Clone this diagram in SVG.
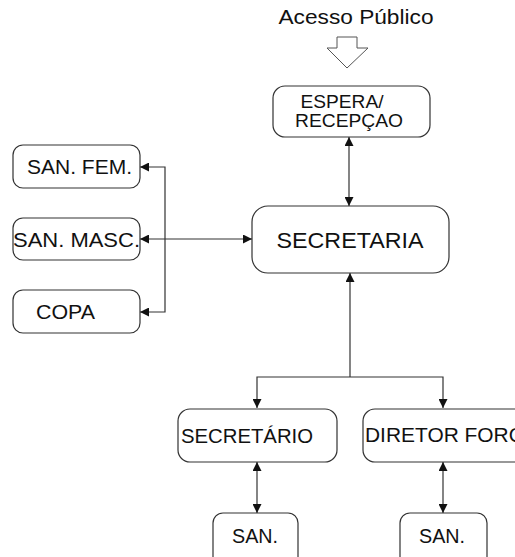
<svg xmlns="http://www.w3.org/2000/svg" width="515" height="557" viewBox="0 0 515 557">
<style>
.box{fill:#fff;stroke:#333;stroke-width:1.2}
.t{font-family:"Liberation Sans",Arial,sans-serif;fill:#111}
.c{fill:none;stroke:#333;stroke-width:1.2}
</style>
<defs>
<marker id="ah" viewBox="0 0 10 10" refX="10" refY="5" markerWidth="9" markerHeight="9" markerUnits="userSpaceOnUse" orient="auto-start-reverse">
<path d="M0,0 L10,5 L0,10 Z" fill="#111"/>
</marker>
</defs>
<rect width="515" height="557" fill="#fff"/>
<g id="acesso">
<text class="t" x="356" y="24" font-size="20" text-anchor="middle" textLength="155" lengthAdjust="spacingAndGlyphs">Acesso Público</text>
<path d="M337,37 H357 V48 H368 L347,68 L327,48 H337 Z" fill="#fff" stroke="#555" stroke-width="1"/>
</g>
<g id="connectors">
<line class="c" x1="349" y1="137" x2="349" y2="206" marker-start="url(#ah)" marker-end="url(#ah)"/>
<line class="c" x1="140" y1="239" x2="252" y2="239" marker-start="url(#ah)" marker-end="url(#ah)"/>
<polyline class="c" points="140,167 165,167 165,312 140,312" marker-start="url(#ah)" marker-end="url(#ah)"/>
<line class="c" x1="350" y1="377" x2="350" y2="273" marker-end="url(#ah)"/>
<polyline class="c" points="257,408 257,377 443,377 443,408" marker-start="url(#ah)" marker-end="url(#ah)"/>
<line class="c" x1="257" y1="462" x2="257" y2="513" marker-start="url(#ah)" marker-end="url(#ah)"/>
<line class="c" x1="443" y1="462" x2="443" y2="513" marker-start="url(#ah)" marker-end="url(#ah)"/>
</g>
<g id="espera">
<rect class="box" x="273" y="86" width="157" height="51" rx="12"/>
<text class="t" x="342" y="108" font-size="19" text-anchor="middle" textLength="83" lengthAdjust="spacingAndGlyphs">ESPERA/</text>
<text class="t" x="349" y="127" font-size="19" text-anchor="middle" textLength="108" lengthAdjust="spacingAndGlyphs">RECEPÇAO</text>
</g>
<g id="secretaria">
<rect class="box" x="252" y="206" width="197" height="67" rx="16"/>
<text class="t" x="350" y="248" font-size="22" text-anchor="middle" textLength="147" lengthAdjust="spacingAndGlyphs">SECRETARIA</text>
</g>
<g id="san-fem">
<rect class="box" x="13" y="145" width="127" height="43" rx="10"/>
<text class="t" x="27" y="174" font-size="20" textLength="105" lengthAdjust="spacingAndGlyphs">SAN. FEM.</text>
</g>
<g id="san-masc">
<rect class="box" x="13" y="218" width="127" height="42" rx="10"/>
<text class="t" x="13" y="247" font-size="20" textLength="127" lengthAdjust="spacingAndGlyphs">SAN. MASC.</text>
</g>
<g id="copa">
<rect class="box" x="13" y="290" width="127" height="43" rx="10"/>
<text class="t" x="36" y="319" font-size="20" textLength="59" lengthAdjust="spacingAndGlyphs">COPA</text>
</g>
<g id="secretario">
<rect class="box" x="178" y="409" width="159" height="53" rx="12"/>
<text class="t" x="181" y="443" font-size="20" textLength="132" lengthAdjust="spacingAndGlyphs">SECRETÁRIO</text>
</g>
<g id="diretor">
<rect class="box" x="363" y="409" width="170" height="53" rx="12"/>
<text class="t" x="365" y="442" font-size="20" textLength="160" lengthAdjust="spacingAndGlyphs">DIRETOR FORO</text>
</g>
<g id="san1">
<rect class="box" x="213" y="513" width="85" height="55" rx="10"/>
<text class="t" x="232" y="543" font-size="20" textLength="46" lengthAdjust="spacingAndGlyphs">SAN.</text>
</g>
<g id="san2">
<rect class="box" x="400" y="513" width="87" height="55" rx="10"/>
<text class="t" x="419" y="543" font-size="20" textLength="46" lengthAdjust="spacingAndGlyphs">SAN.</text>
</g>
</svg>
